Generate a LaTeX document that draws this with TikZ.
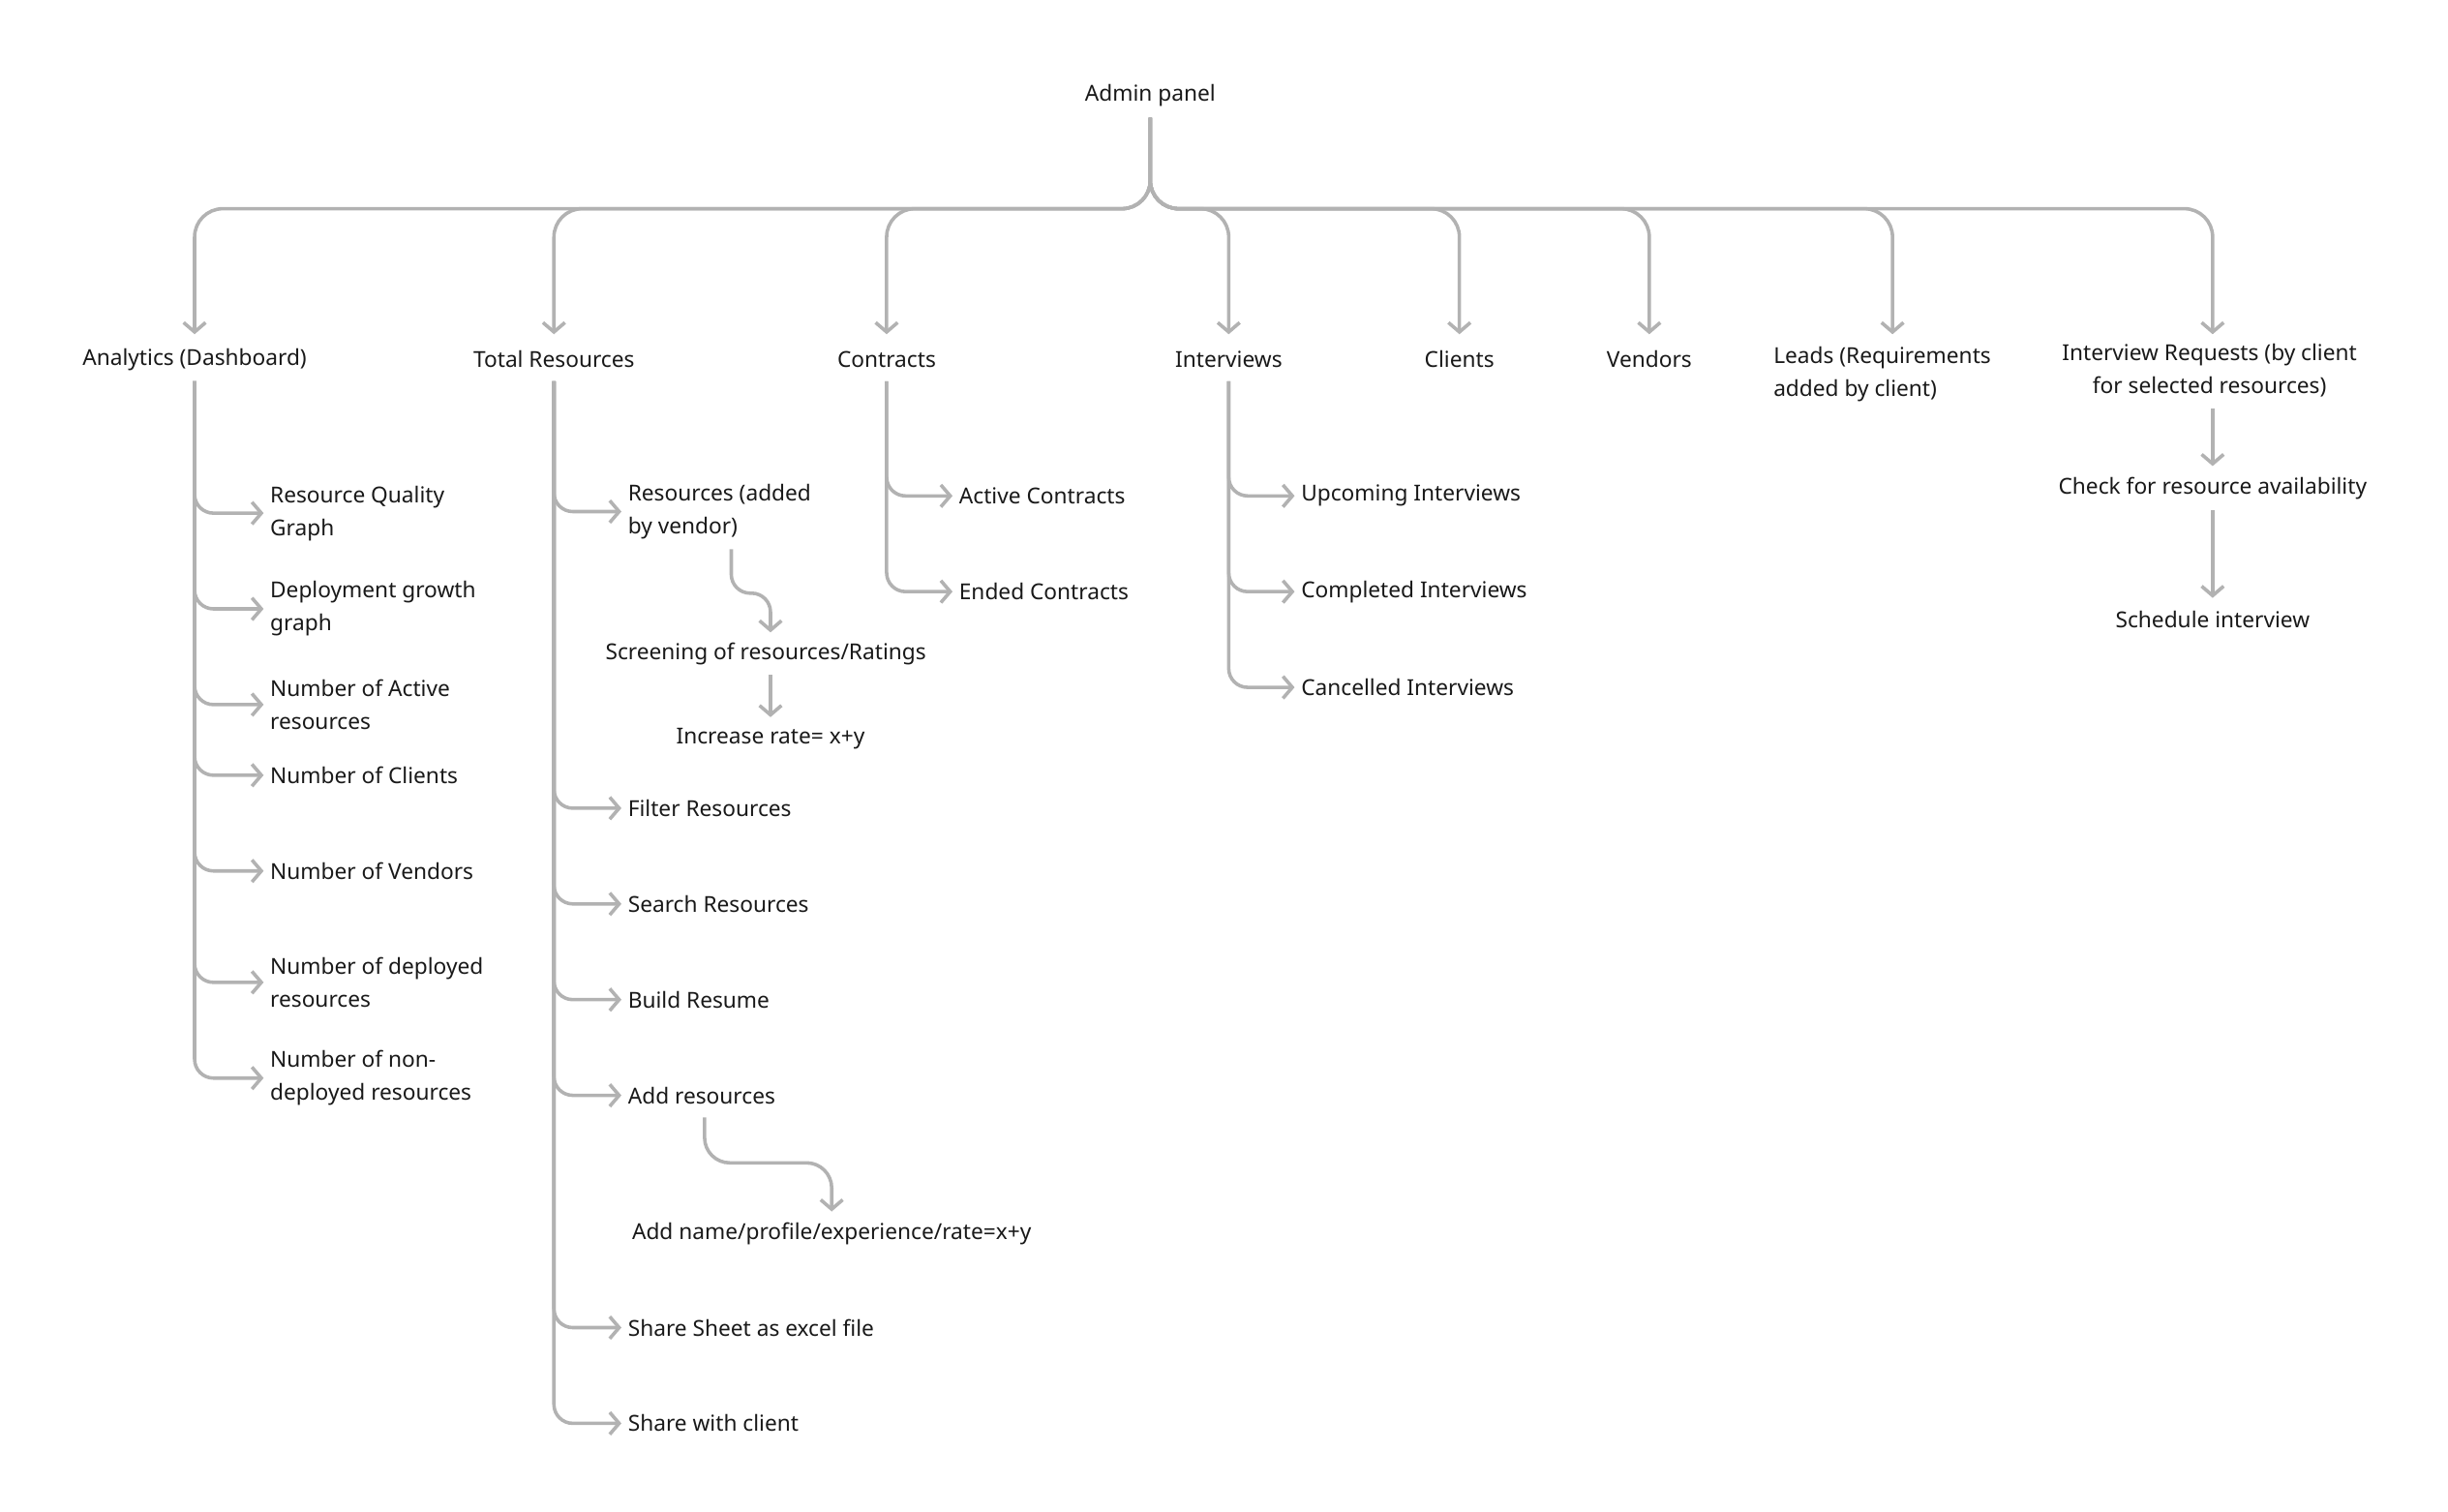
\documentclass[tikz,border=0pt]{standalone}
\usepackage{fontspec}
\setmainfont{Noto Sans}
\usetikzlibrary{arrows.meta}
\begin{document}
\begin{tikzpicture}[x=1pt,y=-1pt,
  ln/.style={draw=black!30,line width=2.2pt,rounded corners=18pt,-{Straight Barb[length=6pt,width=14pt,line width=2.2pt]}},
  t/.style={font=\fontsize{14}{21}\selectfont,inner sep=0pt,align=left,text=black!90},
  c/.style={t,align=center}]
\useasboundingbox (0,0) rectangle (1560,963);
\node[c] (root) at (733,61) {Admin panel};
\coordinate (rb) at (733,75);
\foreach \x/\n in {124/a,353/b,565/c,783/d,930/e,1051/f,1206/g,1410/h}{
  \coordinate (\n top) at (\x,213);
  \draw[ln] (rb) -- (733,133) -- (\x,133) -- (\n top);}
\node[c] (a) at (124,229) {Analytics (Dashboard)};
\node[c] (b) at (353,229) {Total Resources};
\node[c] (c) at (565,229) {Contracts};
\node[c] (d) at (783,229) {Interviews};
\node[c] (e) at (930,229) {Clients};
\node[c] (f) at (1051,229) {Vendors};
\node[t,anchor=north west] (g) at (1130,221) {Leads (Requirements\\added by client)};
\node[c] (h) at (1408,236) {Interview Requests (by client\\for selected resources)};
% Analytics
\foreach \y/\txt/\n in {327/{Resource Quality\\Graph}/a1,388/{Deployment growth\\graph}/a2,449/{Number of Active\\resources}/a3,494/{Number of Clients}/a4,555/{Number of Vendors}/a5,626/{Number of deployed\\resources}/a6,687/{Number of non-\\deployed resources}/a7}{
  \node[t,anchor=west] (\n) at (172,\y) {\txt};
  \draw[ln,rounded corners=12pt] (124,243) -- (124,\y) -- ([xshift=-4pt]\n.west);}
% Total resources
\foreach \y/\txt/\n in {326/{Resources (added\\by vendor)}/b1,515/{Filter Resources}/b2,576/{Search Resources}/b3,637/{Build Resume}/b4,698/{Add resources}/b5,846/{Share Sheet as excel file}/b6,907/{Share with client}/b7}{
  \node[t,anchor=west] (\n) at (400,\y) {\txt};
  \draw[ln,rounded corners=12pt] (353,243) -- (353,\y) -- ([xshift=-4pt]\n.west);}
\node[c] (b11) at (488,417) {Screening of resources/Ratings};
\node[c] (b12) at (491,471) {Increase rate= x+y};
\draw[ln,rounded corners=12pt] (466,350) -- (466,378) -- (491,378) -- (491,403);
\draw[ln] (491,430) -- (491,457);
\node[c] (b51) at (530,786) {Add name/profile/experience/rate=x+y};
\draw[ln,rounded corners=16pt] (449,712) -- (449,741) -- (530,741) -- (530,772);
% Contracts
\foreach \y/\txt/\n in {316/{Active Contracts}/c1,377/{Ended Contracts}/c2}{
  \node[t,anchor=west] (\n) at (611,\y) {\txt};
  \draw[ln,rounded corners=12pt] (565,243) -- (565,\y) -- ([xshift=-4pt]\n.west);}
% Interviews
\foreach \y/\txt/\n in {316/{Upcoming Interviews}/d1,377/{Completed Interviews}/d2,438/{Cancelled Interviews}/d3}{
  \node[t,anchor=west] (\n) at (829,\y) {\txt};
  \draw[ln,rounded corners=12pt] (783,243) -- (783,\y) -- ([xshift=-4pt]\n.west);}
% Interview requests
\node[c] (h1) at (1410,311) {Check for resource availability};
\node[c] (h2) at (1410,395) {Schedule interview};
\draw[ln] (1410,260) -- (1410,297);
\draw[ln] (1410,325) -- (1410,381);
\end{tikzpicture}
\end{document}
